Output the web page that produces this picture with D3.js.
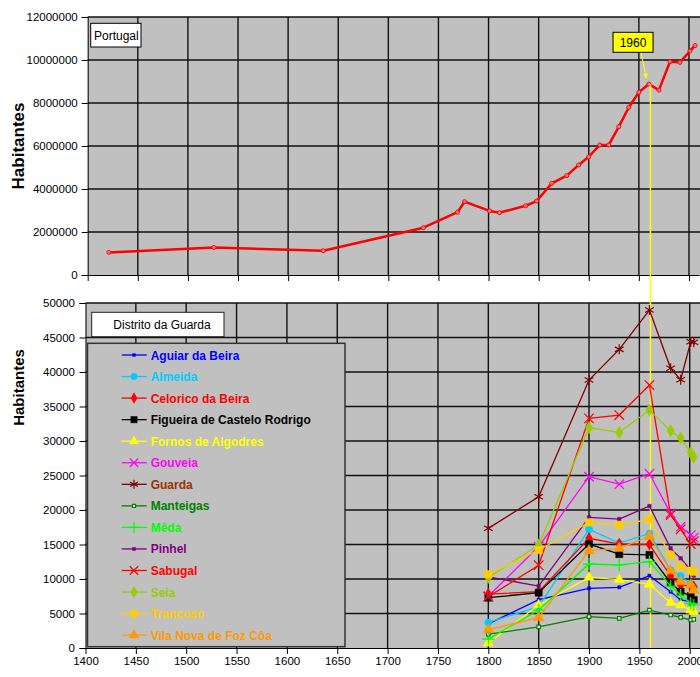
<!DOCTYPE html>
<html>
<head>
<meta charset="utf-8">
<script src="https://d3js.org/d3.v7.min.js"></script>
<style>
  body { margin: 0; background: #fff; }
  svg text { font-family: "Liberation Sans", Arial, sans-serif; }
</style>
</head>
<body>
<svg width="700" height="677"></svg>
<script>
// Portugal, total population
const ptYears = [1421, 1526, 1635, 1735, 1769, 1776, 1801, 1811, 1837, 1848, 1863, 1878, 1890, 1900, 1911, 1920, 1930, 1940, 1950, 1960, 1970, 1981, 1991, 2001, 2006];
const ptPop = [1050000, 1280000, 1130000, 2200000, 2920000, 3410000, 2980000, 2900000, 3220000, 3440000, 4260000, 4620000, 5120000, 5500000, 6050000, 6050000, 6900000, 7800000, 8500000, 8880000, 8600000, 9920000, 9890000, 10420000, 10670000];

// Distrito da Guarda, by concelho
const gdYears = [1800, 1850, 1900, 1930, 1960, 1981, 1991, 2001, 2004];
const aguiar    = [3500, 7000, 8650, 8800, 10480, 8160, 6960, 6710, 6570];
const almeida   = [3700, 6000, 17200, 15200, 16600, 11300, 10430, 9270, 8800];
const celorico  = [7820, 8160, 15900, 15070, 15020, 10430, 9130, 8980, 8890];
const figueira  = [7290, 8020, 15070, 13600, 13500, 9460, 8160, 7530, 6960];
const fornos    = [700, 6230, 10240, 9900, 9230, 6570, 6230, 5500, 5260];
const gouveia   = [7500, 14700, 24820, 23740, 25260, 19520, 17580, 16370, 16000];
const guarda    = [17340, 21930, 38830, 43280, 48980, 40530, 38880, 44380, 44300];
const manteigas = [2000, 3050, 4540, 4300, 5500, 4780, 4450, 4060, 4160];
const meda      = [1300, 5500, 12170, 12030, 12510, 8980, 7680, 6470, 6230];
const pinhel    = [10300, 8980, 18940, 18690, 20580, 14440, 13000, 11300, 10500];
const sabugal   = [7430, 12000, 33280, 33760, 38110, 19270, 17200, 15070, 15500];
const seia      = [10240, 14930, 31920, 31250, 34490, 31470, 30450, 28300, 27650];
const trancoso  = [10680, 14200, 18210, 17820, 18650, 13500, 11780, 11200, 11060];
const vilanova  = [2650, 4400, 14100, 14440, 16200, 11200, 9610, 9130, 8400];

const topTicks = [0, 2000000, 4000000, 6000000, 8000000, 10000000, 12000000];
const bottomTicks = [0, 5000, 10000, 15000, 20000, 25000, 30000, 35000, 40000, 45000, 50000];
const yearTicks = [1400, 1450, 1500, 1550, 1600, 1650, 1700, 1750, 1800, 1850, 1900, 1950, 2000];
const markYear = 1960;

const series = [
  {name: 'Aguiar da Beira', v: aguiar, color: '#0000FF', text: '#0000FF', sym: d3.symbolSquare, size: 10, fill: true},
  {name: 'Almeida', v: almeida, color: '#00CCFF', text: '#00CCFF', sym: d3.symbolCircle, size: 40, fill: true},
  {name: 'Celorico da Beira', v: celorico, color: '#FF0000', text: '#FF0000', sym: d3.symbolDiamond, size: 40, fill: true},
  {name: 'Figueira de Castelo Rodrigo', v: figueira, color: '#000000', text: '#000000', sym: d3.symbolSquare, size: 50, fill: true},
  {name: 'Fornos de Algodres', v: fornos, color: '#FFFF00', text: '#FFFF00', sym: d3.symbolTriangle, size: 45, fill: true},
  {name: 'Gouveia', v: gouveia, color: '#FF00FF', text: '#FF00FF', sym: d3.symbolTimes, size: 60, fill: false},
  {name: 'Guarda', v: guarda, color: '#800000', text: '#993300', sym: d3.symbolAsterisk, size: 70, fill: false},
  {name: 'Manteigas', v: manteigas, color: '#008000', text: '#008000', sym: d3.symbolSquare, size: 12, fill: false},
  {name: 'Mêda', v: meda, color: '#00FF00', text: '#00FF00', sym: d3.symbolPlus, size: 50, fill: false},
  {name: 'Pinhel', v: pinhel, color: '#800080', text: '#800080', sym: d3.symbolSquare, size: 12, fill: true},
  {name: 'Sabugal', v: sabugal, color: '#FF0000', text: '#FF0000', sym: d3.symbolTimes, size: 60, fill: false},
  {name: 'Seia', v: seia, color: '#99CC00', text: '#99CC00', sym: d3.symbolDiamond, size: 45, fill: true},
  {name: 'Trancoso', v: trancoso, color: '#FFCC00', text: '#FFCC00', sym: d3.symbolSquare, size: 55, fill: true},
  {name: 'Vila Nova de Foz Côa', v: vilanova, color: '#FF9900', text: '#FF9900', sym: d3.symbolTriangle, size: 50, fill: true}
];

const svg = d3.select('svg');
const FONT = '"Liberation Sans", Arial, sans-serif';

const xT = d3.scaleLinear().domain([1400, 2010]).range([87.7, 699]);
const yT = d3.scaleLinear().domain([0, 12000000]).range([275, 17]);
const xB = d3.scaleLinear().domain([1400, 2010]).range([85.5, 699.8]);
const yB = d3.scaleLinear().domain([0, 50000]).range([648, 303]);

function plotFrame(x, y, ticks) {
  svg.append('rect')
    .attr('x', x(1400)).attr('y', y(ticks[ticks.length - 1]))
    .attr('width', 700 - x(1400)).attr('height', y(0) - y(ticks[ticks.length - 1]))
    .attr('fill', '#C0C0C0');
  const g = svg.append('g').attr('stroke', '#111').attr('stroke-width', 1.4);
  g.selectAll('line.h').data(ticks.slice(1)).enter().append('line')
    .attr('x1', x(1400)).attr('x2', 700)
    .attr('y1', d => y(d)).attr('y2', d => y(d));
  g.selectAll('line.v').data(yearTicks.slice(1)).enter().append('line')
    .attr('x1', d => x(d)).attr('x2', d => x(d))
    .attr('y1', y(0)).attr('y2', y(ticks[ticks.length - 1]));
}

function styleAxis(g) {
  g.attr('font-family', FONT).attr('font-size', 11.5);
  g.selectAll('text').attr('fill', '#000');
  g.selectAll('line').attr('stroke', '#000');
  g.select('.domain').attr('stroke', '#000');
}

// ---- top chart: Portugal
plotFrame(xT, yT, topTicks);

svg.append('g').attr('transform', `translate(${xT(1400)},0)`)
  .call(d3.axisLeft(yT).tickValues(topTicks).tickSize(6).tickPadding(4).tickFormat(d3.format('d')))
  .call(styleAxis);
svg.append('g').attr('transform', `translate(0,${yT(0)})`)
  .call(d3.axisBottom(xT).tickValues(yearTicks).tickSize(6).tickSizeOuter(0).tickFormat(''))
  .call(styleAxis);

const ptData = ptYears.map((y, i) => [y, ptPop[i]]);
svg.append('path').datum(ptData)
  .attr('fill', 'none').attr('stroke', '#FF0000').attr('stroke-width', 2.5)
  .attr('stroke-linejoin', 'round')
  .attr('d', d3.line().x(d => xT(d[0])).y(d => yT(d[1])));
svg.append('g').selectAll('circle').data(ptData).enter().append('circle')
  .attr('cx', d => xT(d[0])).attr('cy', d => yT(d[1])).attr('r', 2)
  .attr('fill', '#F08080').attr('stroke', '#FF0000').attr('stroke-width', 1);

svg.append('rect').attr('x', 90.7).attr('y', 23.3).attr('width', 50.3).attr('height', 23.7)
  .attr('fill', '#fff').attr('stroke', '#000').attr('stroke-width', 1);
svg.append('text').attr('x', 94).attr('y', 39.5).attr('font-size', 12).text('Portugal');

svg.append('text')
  .attr('transform', `translate(24,${(yT(0) + yT(12000000)) / 2}) rotate(-90)`)
  .attr('text-anchor', 'middle').attr('font-size', 17).attr('font-weight', 'bold')
  .text('Habitantes');

// ---- bottom chart: Distrito da Guarda
plotFrame(xB, yB, bottomTicks);

svg.append('g').attr('transform', `translate(${xB(1400)},0)`)
  .call(d3.axisLeft(yB).tickValues(bottomTicks).tickSize(6).tickPadding(4.5).tickFormat(d3.format('d')))
  .call(styleAxis);
svg.append('g').attr('transform', `translate(0,${yB(0)})`)
  .call(d3.axisBottom(xB).tickValues(yearTicks).tickSize(6).tickSizeOuter(0).tickPadding(3).tickFormat(d3.format('d')))
  .call(styleAxis);

svg.append('text')
  .attr('transform', `translate(24,${(yB(0) + yB(50000)) / 2 - 88}) rotate(-90)`)
  .attr('text-anchor', 'middle').attr('font-size', 15).attr('font-weight', 'bold')
  .text('Habitantes');

// 1960 marker line through both charts
const markX = xB(markYear) + 1;
const markY = yT(ptPop[ptYears.indexOf(markYear)]);
svg.append('line').attr('x1', markX).attr('x2', markX).attr('y1', markY).attr('y2', yB(0))
  .attr('stroke', '#FFFF00').attr('stroke-width', 1.5);

const lineB = d3.line().x((d, i) => xB(gdYears[i])).y(d => yB(d));
series.forEach(s => {
  const g = svg.append('g');
  g.append('path').datum(s.v)
    .attr('fill', 'none').attr('stroke', s.color).attr('stroke-width', 1.3)
    .attr('d', lineB);
  g.selectAll('path.m').data(s.v).enter().append('path')
    .attr('transform', (d, i) => `translate(${xB(gdYears[i])},${yB(d)})`)
    .attr('d', d3.symbol(s.sym, s.size))
    .attr('fill', s.fill ? s.color : (s.sym === d3.symbolSquare ? '#fff' : 'none'))
    .attr('stroke', s.color).attr('stroke-width', s.fill ? 0.5 : 1.2);
});

// title box
svg.append('rect').attr('x', 91.7).attr('y', 312.3).attr('width', 132.3).attr('height', 24.4)
  .attr('fill', '#fff').attr('stroke', '#222').attr('stroke-width', 1);
svg.append('text').attr('x', 113.3).attr('y', 329.3).attr('font-size', 12).text('Distrito da Guarda');

// legend
svg.append('rect').attr('x', 87.5).attr('y', 343.3).attr('width', 257.5).attr('height', 303.4)
  .attr('fill', '#C0C0C0').attr('stroke', '#333').attr('stroke-width', 1.5);
const leg = svg.append('g').selectAll('g').data(series).enter().append('g')
  .attr('transform', (d, i) => `translate(0,${355 + i * 21.55})`);
leg.append('line').attr('x1', 121.7).attr('x2', 146.7)
  .attr('stroke', d => d.color).attr('stroke-width', 1.3);
leg.append('path').attr('transform', 'translate(134,0)')
  .attr('d', d => d3.symbol(d.sym, d.size * 0.8)())
  .attr('fill', d => d.fill ? d.color : (d.sym === d3.symbolSquare ? '#fff' : 'none'))
  .attr('stroke', d => d.color).attr('stroke-width', d => d.fill ? 0.5 : 1.2);
leg.append('text').attr('x', 150.7).attr('y', 4.5)
  .attr('font-size', 12).attr('font-weight', 'bold')
  .attr('fill', d => d.text).text(d => d.name);

// 1960 callout
svg.append('defs').append('marker').attr('id', 'arr')
  .attr('viewBox', '0 0 10 10').attr('refX', 9).attr('refY', 5)
  .attr('markerWidth', 5).attr('markerHeight', 5).attr('orient', 'auto')
  .append('path').attr('d', 'M0,0L10,5L0,10z').attr('fill', '#FFFF00');
svg.append('line').attr('x1', markX - 9.5).attr('y1', 52.5).attr('x2', markX - 4).attr('y2', markY - 6)
  .attr('stroke', '#FFFF00').attr('stroke-width', 1).attr('marker-end', 'url(#arr)');
svg.append('rect').attr('x', markX - 37.4).attr('y', 32.3).attr('width', 40).attr('height', 20)
  .attr('fill', '#FFFF00').attr('stroke', '#000').attr('stroke-width', 1);
svg.append('text').attr('x', markX - 17.4).attr('y', 46.5).attr('text-anchor', 'middle')
  .attr('font-size', 12).text('1960');
</script>
</body>
</html>
